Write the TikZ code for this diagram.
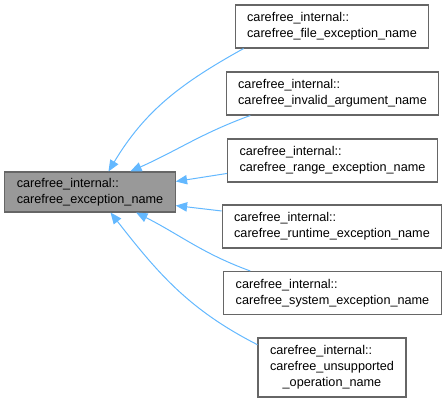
\documentclass[tikz,border=0pt]{standalone}
\usepackage{fontspec}
\setmainfont{Liberation Sans}
\definecolor{edgeblue}{HTML}{63B8FF}
\definecolor{boxgray}{HTML}{666666}
\definecolor{basegray}{HTML}{999999}
\usetikzlibrary{arrows.meta, positioning}

\begin{document}
\begin{tikzpicture}[
          x=0.75pt, y=-0.75pt,
          childbox/.style={
              draw=boxgray,
              fill=white,
              line width=0.8pt,
              inner xsep=9pt,
              inner ysep=2pt,
              minimum height=32.25pt,
              font=\fontsize{9.5}{12}\selectfont,
              align=left
            },
          basebox/.style={
              childbox,
              fill=basegray,
              minimum height=30pt
            },
          arr/.style={{Triangle[length=8.5pt, width=7pt]}-, edgeblue, line width=0.75pt}
        ]
        \useasboundingbox (0,0) rectangle (447,403);

        \node[basebox] (exc) at (90,192)
        {carefree\_internal::\\carefree\_exception\_name};

        \node[childbox] (file) at (332,26.5)
        {carefree\_internal::\\carefree\_file\_exception\_name};
        \node[childbox] (invalid) at (332.5,93.5)
        {carefree\_internal::\\carefree\_invalid\_argument\_name};
        \node[childbox] (range) at (332.5,160.5)
        {carefree\_internal::\\carefree\_range\_exception\_name};
        \node[childbox] (runtime) at (332,226.5)
        {carefree\_internal::\\carefree\_runtime\_exception\_name};
        \node[childbox] (system) at (332.5,293)
        {carefree\_internal::\\carefree\_system\_exception\_name};
        \node[childbox, minimum height=44.25pt] (unsupported) at (332,367.5)
        {carefree\_internal::\\carefree\_unsupported\\\hspace*{1em}\_operation\_name};

        \draw[arr] (exc.48) to[out=59, in=209] (file.194);
        \draw[arr] (exc.27) to[out=24, in=200] (invalid.195);
        \draw[arr] (exc.7) -- (range.187);
        \draw[arr] (exc.351) -- (runtime.172);
        \draw[arr] (exc.336) to[out=-27, in=160] (system.165);
        \draw[arr] (exc.315) to[out=-52, in=153] (unsupported.163);
      \end{tikzpicture}
\end{document}
